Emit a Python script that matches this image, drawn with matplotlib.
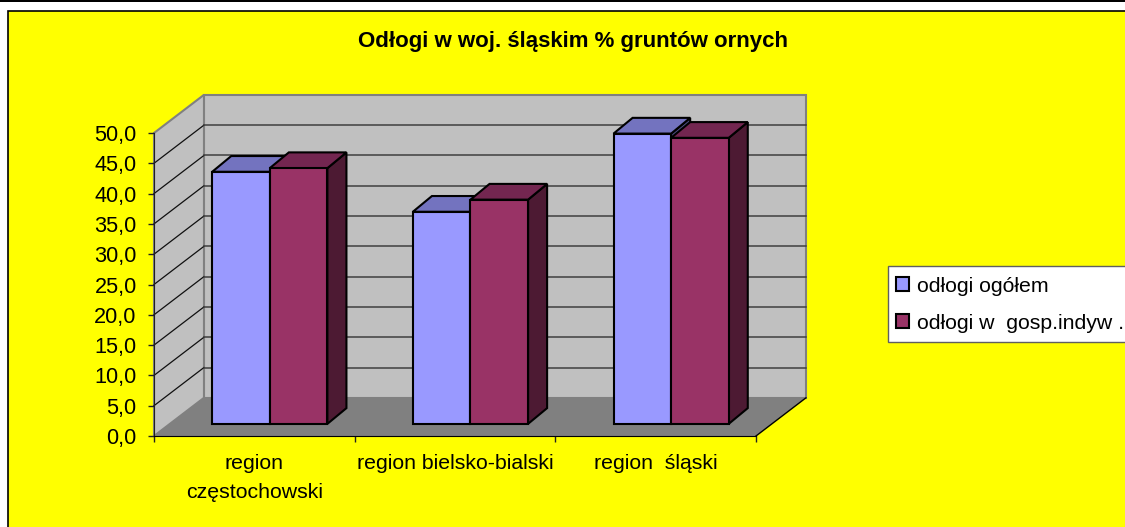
import matplotlib
matplotlib.use("Agg")
import matplotlib.pyplot as plt
from matplotlib.patches import Polygon, Rectangle, Patch

plt.rcParams['font.family'] = ['Liberation Sans', 'DejaVu Sans']

# data
title = "Odłogi w woj. śląskim % gruntów ornych"
categories = ["region\nczęstochowski", "region bielsko-bialski", "region  śląski"]
series_names = ["odłogi ogółem", "odłogi w  gosp.indyw ."]
ogolem = [41.6, 35.0, 47.9]
indyw = [42.2, 37.0, 47.2]
y_ticks = [0, 5, 10, 15, 20, 25, 30, 35, 40, 45, 50]

W, H = 1125, 527

# colours: front, top, side
blue = ("#9999FF", "#7373BF", "#4D4D80")
maroon = ("#993366", "#732650", "#4D1A33")

# depth of the 3d box, in axis units
wall_dx, wall_dy = 0.249, 6.3
# where the bars stand in the box and how deep they are
bar_x0, bar_y0 = 0.077, 2.0
bar_w = 0.287
bar_dx, bar_dy = 0.095, 2.6


def box(x, y):
    return [x / W, 1 - y / H]


fig = plt.figure(figsize=(W / 100, H / 100), dpi=100, facecolor="white")

# black strip on top and the yellow chart area, behind the axes
fig.add_artist(Rectangle(box(0, 2), 1, 2 / H, transform=fig.transFigure,
                         facecolor="black", edgecolor="none", zorder=-2))
fig.add_artist(Rectangle(box(8, 560), 1.1, 549 / H, transform=fig.transFigure,
                         facecolor="#FFFF00", edgecolor="black", linewidth=1.2, zorder=-2))
# legend frame, it runs off the right edge like in the picture
fig.add_artist(Rectangle(box(888, 342), 1, 76 / H, transform=fig.transFigure,
                         facecolor="white", edgecolor="#606060", linewidth=1, zorder=-1))

# axes = the front plane of the box
ax = fig.add_axes([154 / W, 1 - 436 / H, 602 / W, 303 / H])
ax.set_xlim(0, 3)
ax.set_ylim(0, 50)
ax.patch.set_visible(False)

# back wall, side wall, floor
ax.add_patch(Polygon([(wall_dx, wall_dy), (3 + wall_dx, wall_dy),
                      (3 + wall_dx, 50 + wall_dy), (wall_dx, 50 + wall_dy)],
                     facecolor="#C0C0C0", edgecolor="#808080", linewidth=1.5,
                     clip_on=False, zorder=1))
ax.add_patch(Polygon([(0, 0), (wall_dx, wall_dy), (wall_dx, 50 + wall_dy), (0, 50)],
                     facecolor="#C0C0C0", edgecolor="#808080", linewidth=1.5,
                     clip_on=False, zorder=1))
ax.add_patch(Polygon([(0, 0), (3, 0), (3 + wall_dx, wall_dy), (wall_dx, wall_dy)],
                     facecolor="#808080", edgecolor="none",
                     clip_on=False, zorder=1.1))
ax.plot([3, 3 + wall_dx], [0, wall_dy], color="black", linewidth=1,
        clip_on=False, zorder=1.2)

# gridlines go round the two walls, the top one is just the wall edge
for v in y_ticks[1:-1]:
    ax.plot([0, wall_dx], [v, v + wall_dy], color="#101010", linewidth=0.9,
            clip_on=False, zorder=1.2)
    ax.plot([wall_dx, 3 + wall_dx], [v + wall_dy, v + wall_dy], color="#404040",
            linewidth=1.1, clip_on=False, zorder=1.2)


def bar3d(x, val, cols, z):
    x0 = x + bar_x0
    y0 = bar_y0
    y1 = bar_y0 + val
    x1 = x0 + bar_w
    ax.add_patch(Polygon([(x1, y0), (x1 + bar_dx, y0 + bar_dy),
                          (x1 + bar_dx, y1 + bar_dy), (x1, y1)],
                         facecolor=cols[2], edgecolor="black", linewidth=1.5,
                         clip_on=False, zorder=z))
    ax.add_patch(Polygon([(x0, y1), (x1, y1), (x1 + bar_dx, y1 + bar_dy),
                          (x0 + bar_dx, y1 + bar_dy)],
                         facecolor=cols[1], edgecolor="black", linewidth=1.5,
                         clip_on=False, zorder=z))
    ax.add_patch(Polygon([(x0, y0), (x1, y0), (x1, y1), (x0, y1)],
                         facecolor=cols[0], edgecolor="black", linewidth=1.5,
                         clip_on=False, zorder=z))


for i in range(len(categories)):
    bar3d(i + 0.5 - bar_w, ogolem[i], blue, 3 + i)
    bar3d(i + 0.5, indyw[i], maroon, 3.5 + i)

# axes lines and ticks
for s in ["top", "right"]:
    ax.spines[s].set_visible(False)
ax.spines["left"].set_color("#202020")
ax.spines["bottom"].set_color("black")
ax.set_yticks(y_ticks, labels=[f"{v:.1f}".replace(".", ",") for v in y_ticks])
ax.set_xticks([0, 1, 2, 3], labels=[])
ax.set_xticks([0.5, 1.5, 2.5], labels=categories, minor=True)
ax.tick_params(axis="y", length=4.5, width=1, labelsize=15.6, pad=8, color="#202020")
ax.tick_params(axis="x", which="major", length=4.5, width=1, color="#202020")
ax.tick_params(axis="x", which="minor", length=0, labelsize=15.3, pad=13)
for t in ax.get_xticklabels(minor=True):
    t.set_linespacing(1.65)

fig.text(573 / W, 1 - 41 / H, title, ha="center", va="center",
         fontsize=16, fontweight="bold", color="black")

handles = [Patch(facecolor=blue[0], edgecolor="black", linewidth=1.5, label=series_names[0]),
           Patch(facecolor=maroon[0], edgecolor="black", linewidth=1.5, label=series_names[1])]
leg = fig.legend(handles=handles, loc="upper left", frameon=False,
                 bbox_to_anchor=(888 / W, 1 - 269 / H), fontsize=15.3,
                 handlelength=0.62, handleheight=0.62, handletextpad=0.38,
                 labelspacing=0.85, borderpad=0.36, borderaxespad=0)

fig.savefig("out.png", dpi=100, facecolor=fig.get_facecolor())
